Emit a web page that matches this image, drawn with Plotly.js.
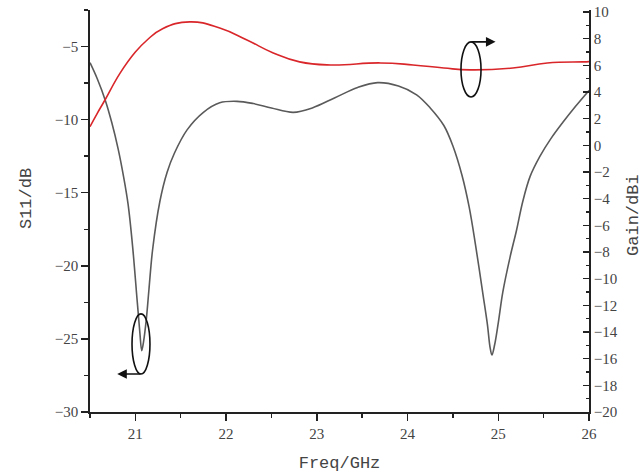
<!DOCTYPE html>
<html>
<head>
<meta charset="utf-8">
<script src="https://cdn.plot.ly/plotly-3.0.1.min.js"></script>
<style>html,body{margin:0;padding:0;background:#fff;}#chart{width:644px;height:476px;}</style>
</head>
<body>
<div id="chart"></div>
<script>
// S11 (left axis)
var s11Freq = [20.5, 20.58, 20.67, 20.74, 20.81, 20.87, 20.92, 20.97, 21.02, 21.05, 21.07, 21.09, 21.12, 21.15, 21.19, 21.27, 21.35, 21.43, 21.57, 21.75, 21.93, 22.12, 22.3, 22.5, 22.74, 22.95, 23.2, 23.45, 23.67, 23.9, 24.1, 24.25, 24.4, 24.5, 24.6, 24.68, 24.75, 24.83, 24.88, 24.91, 24.93, 24.96, 25.0, 25.05, 25.13, 25.2, 25.27, 25.35, 25.46, 25.58, 25.71, 25.85, 26.0];
var s11Values = [-6.1, -7.2, -8.7, -10.2, -12.0, -13.9, -15.8, -18.7, -22.4, -24.6, -25.8, -25.2, -23.7, -21.6, -18.9, -15.6, -13.6, -12.3, -10.7, -9.5, -8.85, -8.75, -8.9, -9.2, -9.5, -9.2, -8.5, -7.8, -7.47, -7.7, -8.3, -9.2, -10.4, -11.8, -13.8, -16.0, -18.6, -21.9, -24.0, -25.6, -26.1, -25.4, -23.9, -21.8, -19.4, -17.6, -15.6, -13.9, -12.5, -11.3, -10.2, -9.1, -8.0];
// Gain (right axis)
var gainFreq = [20.5, 20.58, 20.665, 20.83, 21.0, 21.13, 21.3, 21.6, 21.93, 22.23, 22.52, 22.81, 23.15, 23.7, 24.06, 24.4, 24.69, 25.16, 25.54, 25.93, 26.0];
var gainValues = [1.4, 2.4, 3.4, 5.4, 7.0, 7.9, 8.75, 9.26, 8.8, 7.9, 6.93, 6.26, 6.03, 6.18, 6.03, 5.8, 5.66, 5.8, 6.18, 6.26, 6.28];

var xTitle = 'Freq/GHz';
var yTitle = 'S11/dB';
var y2Title = 'Gain/dBi';

var tickFont = {family: 'Liberation Serif, serif', size: 15, color: '#444'};
var titleFont = {family: 'Liberation Mono, monospace', size: 17, color: '#444'};

var traces = [
  {x: s11Freq, y: s11Values, type: 'scatter', mode: 'lines', yaxis: 'y',
   line: {color: '#5a5a5a', width: 1.6, shape: 'spline', smoothing: 1.0}, hoverinfo: 'none'},
  {x: gainFreq, y: gainValues, type: 'scatter', mode: 'lines', yaxis: 'y2',
   line: {color: '#d9262a', width: 1.6, shape: 'spline', smoothing: 1.3}, hoverinfo: 'none'}
];

var layout = {
  width: 644, height: 476,
  margin: {l: 90, r: 55, t: 10, b: 64, pad: 0},
  paper_bgcolor: '#fff', plot_bgcolor: '#fff',
  showlegend: false,
  xaxis: {
    range: [20.5, 26], tickvals: [21, 22, 23, 24, 25, 26], ticks: 'outside', ticklen: 7, tickwidth: 1.5, tickcolor: '#222',
    showline: true, linecolor: '#222', linewidth: 1.8, showgrid: false, zeroline: false, tickfont: tickFont,
    minor: {dtick: 0.5, tick0: 20.5, ticks: 'outside', ticklen: 4, tickwidth: 1.5, tickcolor: '#222'},
    title: {text: xTitle, font: titleFont, standoff: 15}
  },
  yaxis: {
    range: [-30, -2.5], tickvals: [-30, -25, -20, -15, -10, -5], ticks: 'outside', ticklen: 7, tickwidth: 1.5, tickcolor: '#222',
    showline: true, linecolor: '#222', linewidth: 1.8, showgrid: false, zeroline: false, tickfont: tickFont,
    minor: {dtick: 2.5, tick0: -30, ticks: 'outside', ticklen: 4, tickwidth: 1.5, tickcolor: '#222'},
    title: {text: ''}
  },
  yaxis2: {
    overlaying: 'y', side: 'right', range: [-20, 10.15],
    tickvals: [-20, -18, -16, -14, -12, -10, -8, -6, -4, -2, 0, 2, 4, 6, 8, 10],
    ticks: 'inside', ticklen: 6, tickwidth: 1.5, tickcolor: '#222',
    showline: true, linecolor: '#222', linewidth: 1.8, showgrid: false, zeroline: false, tickfont: tickFont,
    minor: {dtick: 1, tick0: -20, ticks: 'inside', ticklen: 3, tickwidth: 1.5, tickcolor: '#222'},
    title: {text: ''}
  },
  shapes: [
    {type: 'circle', xref: 'x', yref: 'y', x0: 20.963, x1: 21.161, y0: -27.4, y1: -23.29, line: {color: '#111', width: 1.6}},
    {type: 'circle', xref: 'x', yref: 'y2', x0: 24.589, x1: 24.81, y0: 3.63, y1: 7.76, line: {color: '#111', width: 1.6}}
  ],
  annotations: [
    {xref: 'x', yref: 'y', axref: 'x', ayref: 'y', x: 20.8, y: -27.4, ax: 21.073, ay: -27.4, text: '', showarrow: true,
     arrowhead: 2, arrowsize: 1.2, arrowwidth: 1.6, arrowcolor: '#111'},
    {xref: 'x', yref: 'y2', axref: 'x', ayref: 'y2', x: 24.97, y: 7.76, ax: 24.688, ay: 7.76, text: '', showarrow: true,
     arrowhead: 2, arrowsize: 1.2, arrowwidth: 1.6, arrowcolor: '#111'},
    {xref: 'paper', yref: 'paper', x: -0.126, y: 0.53, xanchor: 'center', yanchor: 'middle', text: yTitle, showarrow: false,
     textangle: -90, font: titleFont},
    {xref: 'paper', yref: 'paper', x: 1.088, y: 0.49, xanchor: 'center', yanchor: 'middle', text: y2Title, showarrow: false,
     textangle: -90, font: titleFont}
  ]
};

Plotly.newPlot('chart', traces, layout, {staticPlot: true, displayModeBar: false});
</script>
</body>
</html>
